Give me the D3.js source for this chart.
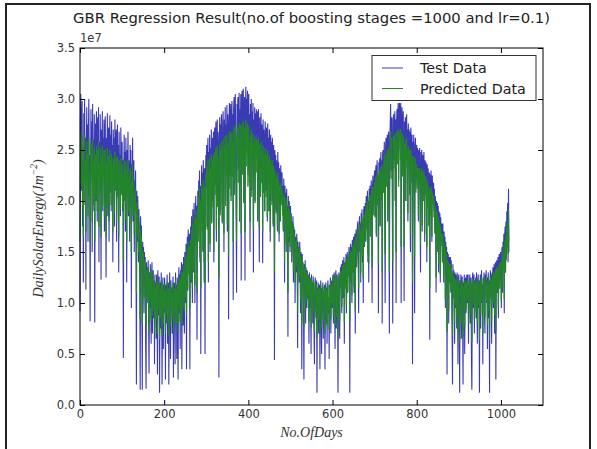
<!DOCTYPE html>
<html>
<head>
<meta charset="utf-8">
<script src="https://cdn.jsdelivr.net/npm/d3@7"></script>
<style>
  body { margin: 0; background: #fff; }
  svg { display: block; font-family: "DejaVu Sans", sans-serif; }
  .axis path { display: none; }
  .axis line { stroke: #000; }
  .axis text { font-size: 11.5px; fill: #333; font-family: "DejaVu Sans", sans-serif; }
  .title { font-size: 14.8px; fill: #222; }
  .axis-label { font-family: "Liberation Serif", serif; font-style: italic; font-size: 14px; fill: #333; }
  .legend text { font-size: 14.3px; fill: #222; }
</style>
</head>
<body>
<div id="chart"></div>
<script>
// daily solar energy, in units of 1e5 J/m^2 (305 -> 3.05e7), one value per day
const testData = [
  92,280,305,210,262,298,175,240,120,286,230,300,196,262,113,250,292,220,275,160,
  268,300,205,245,82,212,290,235,278,150,295,218,260,190,285,81,232,276,200,288,
  245,180,282,226,292,140,258,210,285,238,123,270,215,288,190,262,238,280,170,250,
  283,205,125,262,230,286,185,250,272,160,240,284,210,265,190,278,228,255,140,270,
  230,262,175,280,215,250,270,160,238,275,205,255,130,268,222,245,185,272,235,210,
  258,190,240,46,232,265,200,248,170,262,226,120,250,212,268,185,240,225,160,255,
  218,250,95,236,205,262,180,228,240,150,220,196,230,175,20,210,160,205,188,140,
  192,170,120,15,185,145,176,100,15,160,138,155,90,150,128,145,60,16,140,118,
  135,100,142,80,31,130,95,138,112,60,125,140,70,118,132,85,122,40,128,98,
  120,65,128,105,30,132,88,115,126,12,95,120,75,130,102,20,110,125,55,118,
  90,125,105,25,118,80,112,128,60,100,120,20,92,130,110,45,122,98,115,70,
  108,126,27,95,120,112,40,130,85,118,45,125,105,25,120,135,90,128,55,132,
  115,140,35,125,138,78,145,120,70,150,132,100,158,35,140,165,112,172,130,150,
  168,35,155,175,120,185,148,100,192,165,130,198,150,100,188,205,160,195,64,180,
  210,165,220,185,230,140,215,50,205,235,180,228,150,240,200,120,232,50,215,245,
  228,255,175,240,262,120,248,205,265,150,252,225,270,180,245,262,200,268,140,255,
  272,215,260,278,160,250,280,200,268,235,27,262,282,190,275,240,285,210,178,278,
  288,230,150,280,262,292,200,275,245,294,170,285,260,84,280,296,225,270,295,205,
  265,298,240,285,103,290,302,215,280,305,250,190,110,295,270,302,230,288,306,180,
  290,255,305,122,285,308,240,296,310,200,275,302,122,290,312,250,300,265,308,225,
  298,305,230,285,150,295,262,300,210,288,270,296,130,280,240,292,200,286,265,290,
  245,288,180,275,290,220,140,282,255,210,286,230,275,262,139,280,215,270,250,190,
  278,240,210,272,255,180,276,230,262,190,270,248,160,265,222,258,200,262,238,175,
  255,230,44,250,212,245,190,240,225,170,248,205,238,160,232,215,180,235,200,225,
  228,190,215,170,222,205,120,215,185,208,150,212,175,195,67,205,160,200,182,150,
  195,170,188,140,180,160,185,120,175,150,172,100,165,158,130,168,145,56,160,140,
  155,120,160,138,90,150,142,35,148,125,140,100,25,138,115,142,80,135,120,95,
  132,105,128,118,60,130,95,125,112,50,128,100,120,80,126,110,70,40,118,125,
  108,85,122,12,115,95,120,70,110,118,35,100,122,88,50,115,105,120,65,112,
  98,118,35,108,120,80,115,60,112,122,90,105,45,118,100,125,70,110,122,95,
  118,128,80,115,130,100,55,125,132,75,118,128,95,12,110,130,120,65,125,135,
  115,138,90,130,142,105,125,145,60,132,140,115,148,90,135,150,110,145,128,155,
  140,12,150,158,120,155,100,162,145,130,165,110,158,168,70,160,172,135,150,175,
  180,145,90,170,185,150,178,120,188,165,192,140,180,100,190,195,155,185,198,160,
  205,175,195,210,140,200,120,212,185,215,165,208,220,180,100,215,225,190,210,222,
  230,185,220,235,165,228,240,200,225,90,238,210,242,175,235,248,205,240,80,245,
  250,215,240,258,190,100,252,262,220,245,265,180,255,268,225,70,262,275,295,230,
  270,282,215,80,278,285,240,265,288,200,280,100,275,290,245,285,296,220,272,296,
  285,250,296,100,280,292,230,270,288,215,102,278,255,282,200,275,285,240,270,180,
  276,245,270,210,268,150,272,255,225,265,40,258,240,265,200,90,255,262,215,250,
  255,220,252,240,180,250,230,252,195,130,248,225,250,170,245,238,205,248,220,160,
  240,215,238,225,140,236,200,232,220,175,228,64,226,190,230,210,160,225,205,215,
  218,190,212,170,205,195,110,200,180,198,150,195,130,190,168,188,120,184,160,178,
  176,140,178,155,120,170,150,165,95,160,145,155,30,150,130,148,80,145,120,140,
  145,110,142,125,70,20,138,105,132,118,60,130,95,128,115,75,130,100,40,125,
  128,95,12,122,110,128,65,118,126,85,20,120,105,128,50,118,125,90,112,128,
  100,122,128,60,118,110,128,80,120,125,45,15,118,130,95,115,128,70,122,110,
  125,85,130,115,60,120,128,95,122,12,110,128,75,120,132,100,118,40,125,115,
  130,90,70,128,118,132,100,125,55,120,130,85,122,12,118,132,105,128,60,130,
  118,135,95,125,138,70,130,140,25,128,142,110,135,145,85,138,148,115,142,150,
  130,95,150,155,110,160,140,168,90,165,175,130,180,145,190,160,198,140,212,150
];

const predictedData = [
  160,250,268,215,240,262,195,228,165,255,220,265,200,240,170,232,258,212,246,185,
  242,262,205,228,160,210,256,222,248,180,260,214,238,196,252,160,220,246,202,254,
  228,190,250,218,258,175,236,206,252,224,165,244,210,254,195,238,224,250,185,232,
  250,205,165,238,218,252,192,230,244,180,226,250,208,240,196,246,218,234,170,242,
  218,238,188,248,210,232,242,180,224,244,204,234,165,240,214,228,192,242,222,206,
  236,195,225,140,220,240,200,230,182,238,215,160,230,206,240,190,224,214,175,232,
  208,228,150,218,200,236,185,212,220,168,206,190,212,178,110,198,165,192,180,150,
  180,165,132,85,172,145,165,115,80,152,135,148,105,142,128,138,90,78,132,118,
  128,105,135,92,72,124,100,130,112,82,120,132,88,114,125,94,116,70,120,100,
  114,85,120,104,70,124,94,110,118,65,98,114,86,122,102,68,108,118,80,112,
  94,118,104,70,112,88,108,120,80,100,114,68,95,122,106,78,115,98,110,86,
  105,118,72,98,114,108,80,122,92,112,80,118,104,72,114,126,96,120,82,124,
  112,130,80,120,130,95,136,116,92,140,126,106,146,88,134,154,114,160,128,142,
  156,95,148,162,122,172,142,115,178,156,132,184,146,118,176,190,155,182,110,170,
  194,160,204,176,212,145,200,115,192,216,172,210,152,220,190,140,214,120,200,226,
  212,234,172,222,240,140,228,196,242,158,232,210,246,178,226,240,194,245,150,234,
  248,206,238,252,172,230,254,194,244,218,125,240,256,186,250,222,258,202,180,252,
  260,216,168,254,240,264,195,250,226,265,178,258,238,145,254,268,212,246,266,200,
  242,268,224,258,160,262,272,206,254,274,232,190,160,266,246,272,218,260,276,182,
  262,236,274,168,258,276,226,266,278,198,250,272,170,262,280,234,270,244,276,214,
  268,274,218,258,180,265,242,270,204,260,248,266,172,254,224,262,198,258,242,260,
  228,260,185,250,262,210,175,255,236,204,258,218,250,240,170,254,208,246,232,190,
  252,224,204,246,236,184,250,218,240,190,245,230,170,240,212,236,196,240,222,178,
  234,216,130,230,204,226,188,222,212,175,228,200,220,168,215,204,182,218,196,210,
  212,186,204,172,208,196,140,204,182,198,158,202,176,190,110,196,165,192,178,155,
  188,168,182,148,175,160,178,132,170,152,166,120,160,154,136,162,145,92,155,140,
  150,126,154,136,104,146,138,80,144,125,136,108,76,134,118,138,94,130,120,102,
  128,108,124,116,82,126,100,122,112,76,124,104,118,90,122,110,84,72,116,120,
  106,92,118,66,112,98,116,84,108,114,70,102,118,94,76,112,104,116,82,110,
  100,114,70,106,116,88,112,78,110,118,94,104,74,114,100,120,84,108,118,98,
  114,124,88,112,126,102,78,120,128,86,115,124,98,68,108,126,118,82,122,130,
  114,132,96,126,136,106,122,140,82,128,136,114,142,98,132,145,112,140,126,148,
  136,82,145,152,122,150,108,156,142,130,158,116,152,162,92,155,165,136,148,168,
  172,145,115,164,176,150,170,130,180,160,184,146,174,125,182,186,156,178,190,162,
  196,172,188,200,148,192,140,204,180,206,166,200,210,178,135,206,214,186,202,212,
  218,184,210,224,168,218,228,196,214,138,226,204,230,176,224,234,200,228,130,232,
  236,208,228,244,190,148,238,246,214,232,250,184,242,252,218,130,248,258,268,222,
  254,262,210,140,258,264,232,248,266,200,260,150,255,268,236,262,270,214,252,268,
  262,240,270,155,258,266,224,250,264,210,155,256,240,260,200,254,262,232,250,188,
  254,234,250,206,248,168,250,238,218,244,120,238,226,244,198,145,236,242,208,232,
  236,212,232,224,186,232,218,232,192,158,230,214,232,176,228,222,200,230,210,168,
  224,206,222,212,155,220,194,216,206,176,212,115,210,186,214,200,165,208,196,202,
  204,184,200,168,194,186,125,190,174,188,152,184,138,180,164,178,128,174,156,168,
  166,140,168,150,124,160,146,156,104,152,140,148,72,142,128,140,92,138,120,134,
  138,112,135,122,86,68,130,106,126,114,80,124,98,122,112,86,124,102,72,120,
  122,98,62,116,108,122,80,114,120,92,66,116,104,122,76,114,120,94,110,122,
  102,118,122,80,114,108,122,90,116,120,74,62,114,124,98,112,122,84,118,108,
  120,92,124,112,80,116,122,98,118,64,108,122,88,116,126,102,114,70,120,112,
  124,96,86,122,114,126,102,120,78,116,124,92,118,64,114,126,106,122,82,124,
  116,128,100,120,130,88,124,132,72,122,134,110,128,136,96,130,138,114,134,140,
  126,102,140,145,116,150,134,156,104,154,162,130,166,142,174,154,180,148,192,160
];

const seriesNames = ["Test Data", "Predicted Data"];
const xTicks = [0, 200, 400, 600, 800, 1000];
const yTicks = [0, 0.5e7, 1.0e7, 1.5e7, 2.0e7, 2.5e7, 3.0e7, 3.5e7];
const unit = 1e5;

class LineChart {
  constructor(selector, config) {
    this.selector = selector;
    this.config = config;
    this.width = config.width;
    this.height = config.height;
    this.initChart();
  }

  initChart() {
    const { margin, size } = this.config;

    this.root = d3
      .select(this.selector)
      .append("svg")
      .attr("width", size.w)
      .attr("height", size.h);

    this.root.append("rect")
      .attr("width", size.w)
      .attr("height", size.h)
      .attr("fill", "#fff");

    // dark frame of the figure picture
    this.root.append("path")
      .attr("d", `M6,${size.h} V4 H590 V${size.h}`)
      .attr("fill", "none")
      .attr("stroke", "#222")
      .attr("stroke-width", 2);

    this.svg = this.root.append("g")
      .attr("transform", `translate(${margin.left},${margin.top})`);

    // Scales
    this.x = d3.scaleLinear().domain([0, 1100]).range([0, this.width]);
    this.y = d3.scaleLinear().domain([0, 3.5e7]).range([this.height, 0]);
  }

  render() {
    const { colors, labels, margin } = this.config;
    const x = this.x, y = this.y, w = this.width, h = this.height;

    const line = d3.line()
      .x((d, i) => x(i))
      .y((d) => y(d * unit));

    this.svg.append("path")
      .datum(testData)
      .attr("fill", "none")
      .attr("stroke", colors.test)
      .attr("stroke-width", 1.1)
      .attr("d", line);

    this.svg.append("path")
      .datum(predictedData)
      .attr("fill", "none")
      .attr("stroke", colors.pred)
      .attr("stroke-width", 0.9)
      .attr("d", line);

    // Axes, ticks pointing inwards on all four sides
    this.svg.append("g")
      .attr("class", "axis")
      .attr("transform", `translate(0,${h})`)
      .call(d3.axisBottom(x).tickValues(xTicks).tickSizeInner(-5).tickSizeOuter(0).tickPadding(5).tickFormat(d3.format("d")));

    this.svg.append("g")
      .attr("class", "axis")
      .call(d3.axisTop(x).tickValues(xTicks).tickSizeInner(-5).tickSizeOuter(0).tickFormat(""));

    this.svg.append("g")
      .attr("class", "axis")
      .call(d3.axisLeft(y).tickValues(yTicks).tickSizeInner(-5).tickSizeOuter(0).tickPadding(5)
        .tickFormat((d) => d3.format(".1f")(d / 1e7)));

    this.svg.append("g")
      .attr("class", "axis")
      .attr("transform", `translate(${w},0)`)
      .call(d3.axisRight(y).tickValues(yTicks).tickSizeInner(-5).tickSizeOuter(0).tickFormat(""));

    this.svg.append("rect")
      .attr("width", w)
      .attr("height", h)
      .attr("fill", "none")
      .attr("stroke", "#000")
      .attr("stroke-width", 1);

    // offset text
    this.svg.append("text")
      .attr("x", 0)
      .attr("y", -6)
      .attr("font-size", 11.5)
      .attr("fill", "#333")
      .text("1e7");

    // Title
    this.svg.append("text")
      .attr("class", "title")
      .attr("x", w / 2)
      .attr("y", -25)
      .attr("text-anchor", "middle")
      .text(labels.title);

    // Axis labels
    this.svg.append("text")
      .attr("class", "axis-label")
      .attr("x", w / 2)
      .attr("y", h + 32)
      .attr("text-anchor", "middle")
      .text(labels.x);

    const yl = this.svg.append("text")
      .attr("class", "axis-label")
      .attr("transform", `translate(${-margin.left + 43},${h / 2 + 2}) rotate(-90)`)
      .attr("text-anchor", "middle");
    yl.append("tspan").text("DailySolarEnergy(Jm");
    yl.append("tspan").attr("font-size", 9.5).attr("dy", -6).text("\u22122");
    yl.append("tspan").attr("dy", 6).text(")");

    // Legend
    const lg = this.svg.append("g")
      .attr("class", "legend")
      .attr("transform", `translate(${372 - margin.left},${55.5 - margin.top})`);
    lg.append("rect")
      .attr("width", 164)
      .attr("height", 45)
      .attr("fill", "#fff")
      .attr("stroke", "#333");
    const items = [
      { name: seriesNames[0], color: colors.test },
      { name: seriesNames[1], color: colors.pred }
    ];
    items.forEach((it, i) => {
      const yy = 12.5 + i * 20.5;
      lg.append("line")
        .attr("x1", 10).attr("x2", 31)
        .attr("y1", yy).attr("y2", yy)
        .attr("stroke", it.color)
        .attr("stroke-width", 1);
      lg.append("text")
        .attr("x", 48)
        .attr("y", yy + 5)
        .text(it.name);
    });
  }
}

const chart = new LineChart("#chart", {
  size: { w: 597, h: 449 },
  width: 463,
  height: 357,
  margin: { left: 80, top: 48 },
  colors: { test: "#3a3ab4", pred: "#238a23" },
  labels: {
    title: "GBR Regression Result(no.of boosting stages =1000 and lr=0.1)",
    x: "No.OfDays"
  }
});
chart.render();
</script>
</body>
</html>
